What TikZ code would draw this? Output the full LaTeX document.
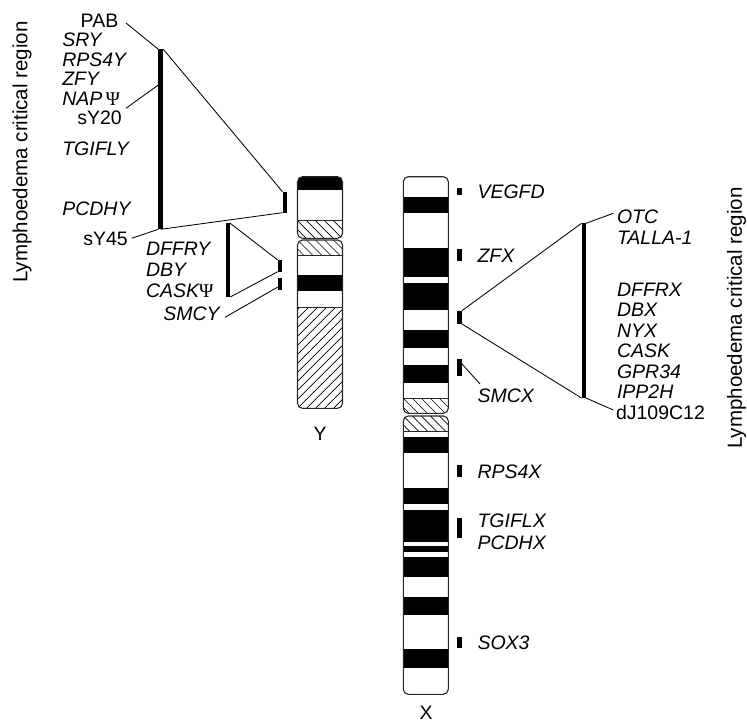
\documentclass[tikz,border=0pt]{standalone}
\usepackage{fontspec}
\setmainfont{Liberation Sans}
\newfontfamily\psifam{Liberation Serif}
\usetikzlibrary{calc}

\newcommand\lblsize{\fontsize{19.5bp}{21bp}\selectfont}
\newcommand\regsize{\fontsize{20.5bp}{22bp}\selectfont}
\newcommand\Psy{{\psifam\upshape Ψ}}

\tikzset{
  lbl/.style={inner sep=0pt, outer sep=0pt, font=\lblsize},
  gene/.style={lbl, font=\lblsize\itshape},
  region/.style={inner sep=0pt, font=\regsize, rotate=90},
  conn/.style={line width=0.85bp, black},
  tick/.style={fill=black, draw=none, inner sep=0pt, outer sep=0pt, minimum width=4.6bp},
  bar/.style={fill=black, draw=none, inner sep=0pt, outer sep=0pt},
  chromo/.style={line width=1.1bp, draw=black!85, rounded corners=5bp},
  hatchline/.style={line width=0.7bp, black},
  sep/.style={line width=0.8bp, black!85},
}

% hatching "\" inside rectangle (x0,y0)-(x1,y1), y growing downwards
\newcommand\hatchback[4]{%
  \begin{scope}
    \clip (#1,#2) rectangle (#3,#4);
    \foreach \k in {-126,-117,...,60} \draw[hatchline] ({#1+(\k)},#2) -- ++(130,130);
  \end{scope}}
% hatching "/" inside rectangle (x0,y0)-(x1,y1)
\newcommand\hatchfwd[4]{%
  \begin{scope}
    \clip (#1,#2) rectangle (#3,#4);
    \foreach \k in {-126,-117,...,60} \draw[hatchline] ({#1+(\k)},#4) -- ++(130,-130);
  \end{scope}}

\begin{document}
\begin{tikzpicture}[x=1bp, y=-1bp]
\useasboundingbox (0,0) rectangle (747,725);

% ---------------- Y chromosome ----------------
% short arm
\begin{scope}
  \clip[rounded corners=5bp] (297.5,176.7) rectangle (342.5,238.3);
  \fill (297.5,176.7) rectangle (342.5,190);
  \hatchback{297.5}{220.7}{342.5}{238.3}
  \draw[sep] (297.5,220.7) -- (342.5,220.7);
\end{scope}
\draw[chromo] (297.5,176.7) rectangle (342.5,238.3);
% long arm
\begin{scope}
  \clip[rounded corners=5bp] (297.5,240) rectangle (342.5,408.3);
  \hatchback{297.5}{240}{342.5}{255}
  \draw[sep] (297.5,255) -- (342.5,255);
  \fill (297.5,275.3) rectangle (342.5,290.7);
  \hatchfwd{297.5}{307.3}{342.5}{408.3}
  \draw[sep] (297.5,307.3) -- (342.5,307.3);
\end{scope}
\draw[chromo] (297.5,240) rectangle (342.5,408.3);
\node[lbl] (ylab) at (320,433.5) {Y};

% ---------------- X chromosome ----------------
% short arm
\begin{scope}
  \clip[rounded corners=5bp] (403.3,176.7) rectangle (448.3,413.3);
  \foreach \a/\b in {197.3/212.7, 248.3/277.3, 282.7/310, 330/348.3, 365/382.7}
    \fill (403.3,\a) rectangle (448.3,\b);
  \hatchback{403.3}{398.3}{448.3}{413.3}
  \draw[sep] (403.3,398.3) -- (448.3,398.3);
\end{scope}
\draw[chromo] (403.3,176.7) rectangle (448.3,413.3);
% long arm
\begin{scope}
  \clip[rounded corners=5bp] (403.3,416) rectangle (448.3,694.3);
  \hatchback{403.3}{416}{448.3}{431.7}
  \draw[sep] (403.3,431.7) -- (448.3,431.7);
  \foreach \a/\b in {436.7/453.3, 488.3/504, 510/541.7, 546/551.7, 557.3/576.7, 596.7/615, 649/667.7}
    \fill (403.3,\a) rectangle (448.3,\b);
\end{scope}
\draw[chromo] (403.3,416) rectangle (448.3,694.3);
\node[lbl] (xlab) at (426,713) {X};

% ---------------- marker ticks ----------------
\node[tick, minimum width=4.5bp, minimum height=21bp]  (tYa) at (284.75,202.2) {};
\node[tick, minimum height=11.7bp] (tYb) at (280,265.85) {};
\node[tick, minimum height=11.7bp] (tYc) at (280,284.15) {};

\node[tick, minimum height=6.7bp]  (tVEGFD) at (459.65,191.65) {};
\node[tick, minimum height=11.4bp] (tZFX)   at (459.65,255) {};
\node[tick, minimum height=13.3bp] (tMid)   at (459.65,317.35) {};
\node[tick, minimum height=16.7bp] (tSMCX)  at (459.65,367.65) {};
\node[tick, minimum height=11.7bp] (tRPS4X) at (459.65,470.85) {};
\node[tick, minimum height=20bp]   (tTGIF)  at (459.65,528.3) {};
\node[tick, minimum height=11.6bp] (tSOX3)  at (459.65,642.5) {};

% ---------------- expanded regions ----------------
\node[bar, minimum width=5bp,   minimum height=180bp]   (barA) at (160.8,139.3) {};
\node[bar, minimum width=4.5bp, minimum height=73.7bp]  (barB) at (228,260.15) {};
\node[bar, minimum width=4.5bp, minimum height=174.7bp] (barX) at (583.75,310.65) {};

% ---------------- labels, Y side ----------------
\node[lbl,  anchor=base east] (pab)   at (118.3,28)   {PAB};
\node[gene, anchor=base west] (sry)   at (62.3,47)    {SRY};
\node[gene, anchor=base west] (rps4y) at (62.3,66.5)  {RPS4Y};
\node[gene, anchor=base west] (zfy)   at (62.3,86)    {ZFY};
\node[gene, anchor=base west] (napy)  at (62.3,105.5) {NAP\,\Psy};
\node[lbl,  anchor=base east] (sy20)  at (121.7,124.5) {sY20};
\node[gene, anchor=base west] (tgify) at (62.3,155)   {TGIFLY};
\node[gene, anchor=base west] (pcdhy) at (62.3,215)   {PCDHY};
\node[lbl,  anchor=base east] (sy45)  at (127.7,245)  {sY45};
\node[gene, anchor=base west] (dffry) at (146,255)    {DFFRY};
\node[gene, anchor=base west] (dby)   at (146,276.7)  {DBY};
\node[gene, anchor=base west] (caskp) at (146,297.3)  {CASK\Psy};
\node[gene, anchor=base west] (smcy)  at (163.3,320)  {SMCY};

% ---------------- labels, X side ----------------
\node[gene, anchor=base west] (vegfd)  at (477.5,198.5) {VEGFD};
\node[gene, anchor=base west] (zfx)    at (477.5,262)   {ZFX};
\node[gene, anchor=base west] (smcx)   at (477.5,402)   {SMCX};
\node[gene, anchor=base west] (rps4x)  at (477.5,478.5) {RPS4X};
\node[gene, anchor=base west] (tgiflx) at (477.5,527.8) {TGIFLX};
\node[gene, anchor=base west] (pcdhx)  at (477.5,549)   {PCDHX};
\node[gene, anchor=base west] (sox3)   at (477.5,649)   {SOX3};

\node[gene, anchor=base west] (otc)   at (617,223.5) {OTC};
\node[gene, anchor=base west] (talla) at (617,244.5) {TALLA-1};
\node[gene, anchor=base west] (dffrx) at (617,296)   {DFFRX};
\node[gene, anchor=base west] (dbx)   at (617,316.5) {DBX};
\node[gene, anchor=base west] (nyx)   at (617,337)   {NYX};
\node[gene, anchor=base west] (cask)  at (617,357.5) {CASK};
\node[gene, anchor=base west] (gpr)   at (617,378)   {GPR34};
\node[gene, anchor=base west] (ipp)   at (617,398.5) {IPP2H};
\node[lbl,  anchor=base west] (dj)    at (616,419)   {dJ109C12};

\node[region] (lcrY) at (22,152)    {Lymphoedema critical region};
\node[region] (lcrX) at (736.5,318) {Lymphoedema critical region};

% ---------------- connector end points near labels ----------------
\coordinate (pabEnd)  at (126,23);
\coordinate (sy20End) at (126,108.3);
\coordinate (sy20Hit) at (158.3,85);
\coordinate (sy45End) at (131.7,238.3);
\coordinate (smcyEnd) at (225,317.3);
\coordinate (smcxEnd) at (480,384);
\coordinate (smcxHit) at (462,364);
\coordinate (otcEnd)  at (613.3,213.3);
\coordinate (djEnd)   at (613.3,410);

% ---------------- connectors ----------------
\draw[conn] (pabEnd) -- (barA.north west);
\draw[conn] (barA.north east) -- (tYa.north west);
\draw[conn] (sy20End) -- (sy20Hit);
\draw[conn] (barA.south) -- (tYa.south west);
\draw[conn] (sy45End) -- (barA.south west);

\draw[conn] (barB.north east) -- (tYb.north west);
\draw[conn] (barB.south east) -- (tYb.south west);
\draw[conn] (smcyEnd) -- ($(tYc.west)!0.5!(tYc.south west)$);

\draw[conn] (tMid.north east) -- (barX.north west);
\draw[conn] (tMid.south east) -- (barX.south west);
\draw[conn] (barX.north east) -- (otcEnd);
\draw[conn] (barX.south east) -- (djEnd);
\draw[conn] (smcxHit) -- (smcxEnd);

\end{tikzpicture}
\end{document}
